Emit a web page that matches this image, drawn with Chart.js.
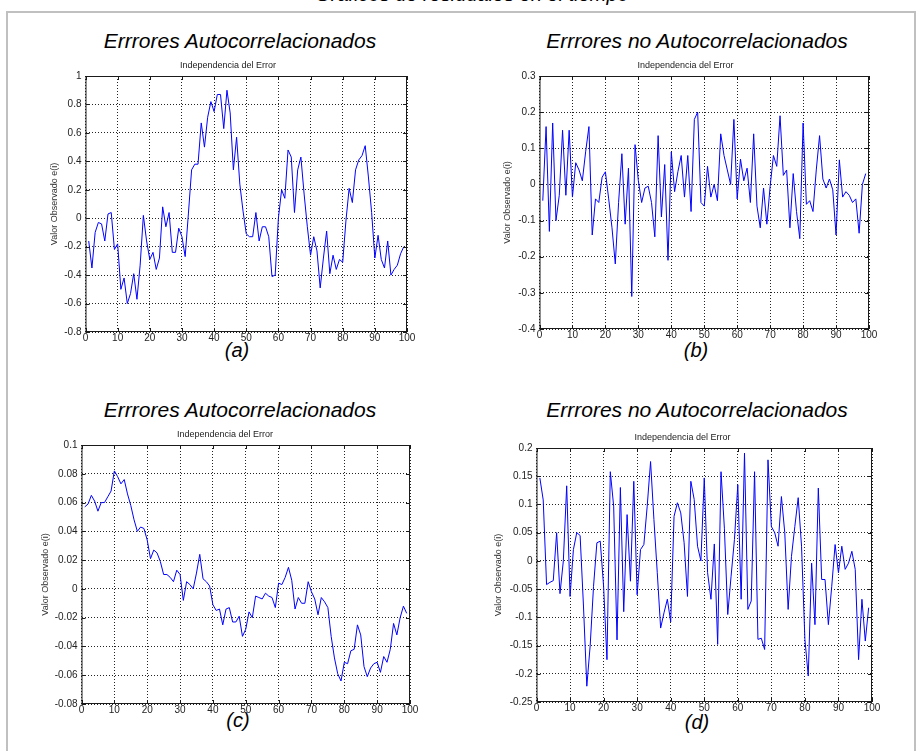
<!DOCTYPE html>
<html>
<head>
<meta charset="utf-8">
<script src="https://cdn.jsdelivr.net/npm/chart.js@4/dist/chart.umd.min.js"></script>
<style>
  body { margin: 0; background: #fff; width: 922px; height: 751px; overflow: hidden; position: relative;
         font-family: "Liberation Sans", Arial, sans-serif; }
  .frame { position: absolute; left: 6px; top: 11px; width: 906px; height: 760px;
           border: 2px solid #c0c0c0; border-bottom: none; }
  .t { position: absolute; font-style: italic; white-space: nowrap; transform: translateX(-50%);
       color: #000; line-height: 1; font-size: 20px; }
  .big { font-size: 21px; }
  canvas { position: absolute; }
</style>
</head>
<body>
<div class="t" style="left:472px;top:-16px;">Gráficos de residuales en el tiempo</div>
<div class="frame"></div>

<div class="t big" style="left:240px;top:30px;">Errrores Autocorrelacionados</div>
<div class="t big" style="left:697px;top:30px;">Errrores no Autocorrelacionados</div>
<div class="t big" style="left:240px;top:399px;">Errrores Autocorrelacionados</div>
<div class="t big" style="left:697px;top:399px;">Errrores no Autocorrelacionados</div>

<div class="t" style="left:237px;top:340px;">(a)</div>
<div class="t" style="left:696px;top:340px;">(b)</div>
<div class="t" style="left:238px;top:710px;">(c)</div>
<div class="t" style="left:697px;top:712px;">(d)</div>

<canvas id="chartA"></canvas>
<canvas id="chartB"></canvas>
<canvas id="chartC"></canvas>
<canvas id="chartD"></canvas>

<script>
  // observation index 1..99
  const obsIndex = Array.from({ length: 99 }, (_, i) => i + 1);

  const subTitle = 'Independencia del Error';
  const yTitle = 'Valor Observado e(i)';

  // (a) autocorrelated errors
  const errA = [
    -0.16, -0.35, -0.1, -0.03, -0.04, -0.16, 0.03, 0.04, -0.22, -0.18,
    -0.5, -0.42, -0.6, -0.53, -0.39, -0.57, -0.33, 0.02, -0.16, -0.29,
    -0.24, -0.36, -0.28, 0.08, -0.06, 0.04, -0.24, -0.24, -0.07, -0.13,
    -0.27, 0.03, 0.34, 0.38, 0.38, 0.67, 0.5, 0.71, 0.82, 0.75,
    0.87, 0.87, 0.63, 0.9, 0.74, 0.34, 0.57, 0.24, 0.05, -0.11,
    -0.13, -0.13, 0.04, -0.16, -0.06, -0.06, -0.13, -0.41, -0.4, 0.0,
    0.2, 0.14, 0.48, 0.43, 0.04, 0.34, 0.43, 0.17, -0.06, -0.26,
    -0.13, -0.23, -0.49, -0.28, -0.09, -0.39, -0.26, -0.36, -0.29, -0.31,
    -0.02, 0.21, 0.11, 0.34, 0.41, 0.44, 0.51, 0.29, 0.04, -0.28,
    -0.12, -0.29, -0.35, -0.16, -0.4, -0.36, -0.33, -0.25, -0.2
  ];

  // (b) non-autocorrelated errors
  const errB = [
    -0.045, 0.16, -0.13, 0.17, -0.1, -0.03, 0.15, -0.03, 0.15, -0.035,
    0.06, 0.04, 0.01, 0.09, 0.16, -0.14, -0.04, -0.05, 0.02, 0.035,
    -0.04, -0.12, -0.22, -0.05, 0.085, -0.11, 0.045, -0.31, 0.11, 0.01,
    -0.05, -0.01, -0.005, -0.05, -0.145, 0.135, -0.09, 0.055, -0.21, 0.09,
    -0.02, 0.035, 0.08, -0.035, 0.08, -0.075, 0.18, 0.2, -0.05, -0.06,
    0.05, -0.035, 0.0, -0.045, 0.14, 0.08, 0.04, 0.0, 0.18, -0.04,
    0.07, 0.01, 0.045, -0.05, 0.14, -0.06, -0.12, -0.01, -0.11, -0.005,
    0.08, 0.05, 0.19, 0.025, 0.04, -0.12, 0.03, -0.075, -0.15, 0.17,
    -0.055, -0.045, -0.075, 0.04, 0.135, 0.015, -0.01, 0.015, -0.015, -0.14,
    0.068, -0.035, -0.02, -0.03, -0.05, -0.04, -0.135, 0.0, 0.03
  ];

  // (c) autocorrelated errors
  const errC = [
    0.057, 0.059, 0.065, 0.061, 0.054, 0.06, 0.06, 0.064, 0.068, 0.082,
    0.078, 0.073, 0.076, 0.066, 0.058, 0.048, 0.04, 0.043, 0.042, 0.034,
    0.021, 0.027, 0.025, 0.019, 0.01, 0.01, 0.008, 0.005, 0.013, 0.01,
    -0.008, 0.005, 0.003, 0.0, 0.011, 0.024, 0.007, 0.005, 0.002, -0.011,
    -0.015, -0.014, -0.025, -0.014, -0.013, -0.023, -0.023, -0.019, -0.033, -0.028,
    -0.016, -0.02, -0.005, -0.006, -0.007, -0.003, -0.005, -0.006, -0.013, 0.004,
    0.003, 0.008, 0.015, 0.006, -0.014, -0.006, -0.01, -0.01, 0.005, -0.002,
    -0.007, -0.018, -0.006, -0.009, -0.013, -0.033, -0.048, -0.059, -0.064, -0.051,
    -0.052, -0.043, -0.042, -0.025, -0.032, -0.054, -0.061, -0.055, -0.052, -0.051,
    -0.058, -0.047, -0.051, -0.042, -0.024, -0.032, -0.02, -0.012, -0.017
  ];

  // (d) non-autocorrelated errors
  const errD = [
    0.147, 0.108, -0.042, -0.038, -0.035, 0.05, -0.058, 0.0, 0.133, -0.063,
    0.02, 0.05, 0.045, -0.08, -0.222, -0.15, -0.045, 0.032, 0.035, -0.045,
    -0.175, 0.158, 0.097, -0.14, 0.13, -0.09, 0.082, -0.036, 0.141, -0.06,
    0.02, 0.029, 0.097, 0.176, 0.073, -0.021, -0.119, -0.092, -0.068, -0.108,
    0.079, 0.103, 0.085, 0.032, -0.063, 0.141, 0.109, 0.026, 0.0, 0.147,
    -0.021, -0.068, 0.03, -0.148, 0.158, 0.058, -0.095, -0.027, 0.038, 0.135,
    -0.068, 0.191, -0.086, -0.071, 0.158, -0.139, -0.137, -0.157, 0.179, 0.061,
    0.05, 0.026, 0.114, 0.05, -0.086, 0.008, 0.061, 0.112, 0.026, -0.139,
    -0.204, -0.004, -0.113, 0.129, -0.033, -0.033, -0.113, -0.045, 0.029, -0.021,
    0.026, -0.015, -0.004, 0.017, -0.015, -0.175, -0.068, -0.142, -0.083
  ];

  // y axis ranges [min, max, step]
  const yRangeA = [-0.8, 1, 0.2];
  const yRangeB = [-0.4, 0.3, 0.1];
  const yRangeC = [-0.08, 0.1, 0.02];
  const yRangeD = [-0.25, 0.2, 0.05];

  // frame + inward tick marks, matlab style
  const axesBox = {
    id: 'axesBox',
    afterDraw(chart) {
      const { ctx, chartArea: a, scales: { x, y } } = chart;
      ctx.save();
      ctx.strokeStyle = '#1a1a1a';
      ctx.lineWidth = 1;
      ctx.strokeRect(a.left + 0.5, a.top + 0.5, a.right - a.left - 1, a.bottom - a.top - 1);
      ctx.beginPath();
      x.ticks.forEach(t => {
        const px = Math.round(x.getPixelForValue(t.value)) + 0.5;
        ctx.moveTo(px, a.bottom); ctx.lineTo(px, a.bottom - 4);
        ctx.moveTo(px, a.top); ctx.lineTo(px, a.top + 4);
      });
      y.ticks.forEach(t => {
        const py = Math.round(y.getPixelForValue(t.value)) + 0.5;
        ctx.moveTo(a.left, py); ctx.lineTo(a.left + 4, py);
        ctx.moveTo(a.right, py); ctx.lineTo(a.right - 4, py);
      });
      ctx.stroke();
      ctx.restore();
    }
  };

  const fmtTick = v => String(Math.round(v * 1000) / 1000);

  function makePanel(id, box, labelX, values, yRange) {
    const yw = box.l - labelX + 5.5;    // y scale width, incl. its title
    const titleH = 16;
    const xh = 16;
    const padR = 12, padB = 2;
    const canvas = document.getElementById(id);
    canvas.width = yw + (box.r - box.l) + padR;
    canvas.height = titleH + (box.b - box.t) + xh + padB;
    canvas.style.left = (box.l - yw) + 'px';
    canvas.style.top = (box.t - titleH) + 'px';

    return new Chart(canvas, {
      type: 'line',
      data: {
        labels: obsIndex,
        datasets: [{
          data: values,
          borderColor: '#0000ff',
          borderWidth: 1,
          pointRadius: 0,
          tension: 0,
          fill: false
        }]
      },
      options: {
        responsive: false,
        animation: false,
        layout: { padding: { left: 0, top: 0, right: padR, bottom: padB } },
        plugins: {
          legend: { display: false },
          tooltip: { enabled: false },
          title: {
            display: true,
            text: subTitle,
            color: '#222',
            font: { family: '"Liberation Sans", Arial', size: 9, weight: 'normal', lineHeight: '11px' },
            padding: { top: 0, bottom: 5 }
          }
        },
        scales: {
          x: {
            type: 'linear',
            min: 0, max: 100,
            afterFit: s => { s.height = xh; },
            grid: { color: '#222', lineWidth: 1, drawTicks: false },
            border: { display: false, dash: [1, 2] },
            ticks: {
              stepSize: 10, autoSkip: false, maxRotation: 0, padding: 1,
              color: '#222',
              font: { family: '"Liberation Sans", Arial', size: 10, lineHeight: 1 },
              callback: fmtTick
            }
          },
          y: {
            min: yRange[0], max: yRange[1],
            afterFit: s => { s.width = yw; },
            grid: { color: '#222', lineWidth: 1, drawTicks: false },
            border: { display: false, dash: [1, 2] },
            title: {
              display: true, text: yTitle, color: '#333',
              padding: { top: 0, bottom: 0 },
              font: { family: '"Liberation Sans", Arial', size: 9, lineHeight: '11px' }
            },
            ticks: {
              stepSize: yRange[2], autoSkip: false, padding: 4,
              color: '#222',
              font: { family: '"Liberation Sans", Arial', size: 10, lineHeight: 1 },
              callback: fmtTick
            }
          }
        }
      },
      plugins: [axesBox]
    });
  }

  makePanel('chartA', { l: 85, r: 407, t: 76, b: 332 }, 54, errA, yRangeA);
  makePanel('chartB', { l: 539, r: 869, t: 76, b: 329 }, 507, errB, yRangeB);
  makePanel('chartC', { l: 81, r: 410, t: 445, b: 704 }, 45, errC, yRangeC);
  makePanel('chartD', { l: 536, r: 872, t: 448, b: 702 }, 498, errD, yRangeD);
</script>
</body>
</html>
